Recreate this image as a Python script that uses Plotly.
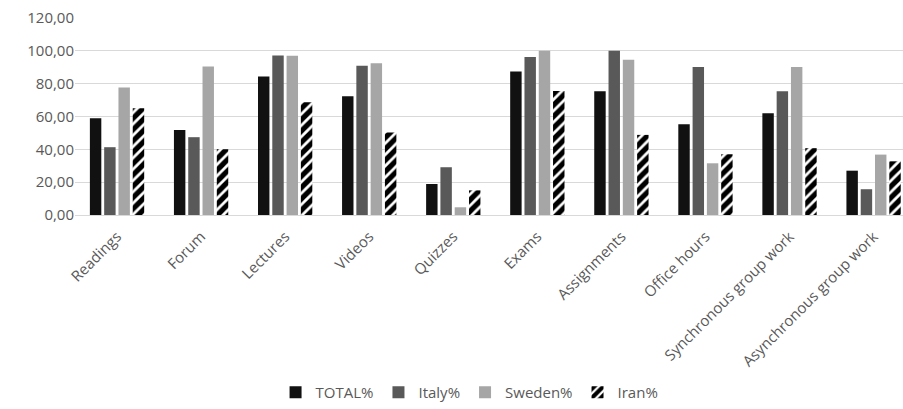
import plotly.graph_objects as go

categories = ["Readings", "Forum", "Lectures", "Videos", "Quizzes", "Exams",
              "Assignments", "Office hours", "Synchronous group work",
              "Asynchronous group work"]
total = [59.0, 51.8, 84.3, 72.4, 18.9, 87.4, 75.4, 55.3, 62.0, 27.0]
italy = [41.3, 47.4, 97.1, 90.9, 29.1, 96.3, 100.0, 90.2, 75.4, 15.7]
sweden = [77.6, 90.4, 97.0, 92.5, 4.7, 100.0, 94.5, 31.5, 90.2, 36.8]
iran = [65.0, 40.0, 68.7, 50.2, 15.0, 75.6, 48.8, 37.0, 40.7, 32.7]
y_ticks = [0, 20, 40, 60, 80, 100, 120]
y_tick_labels = ["0,00", "20,00", "40,00", "60,00", "80,00", "100,00", "120,00"]

FONT = "Open Sans"
GREY_TEXT = "#595959"

fig = go.Figure()
fig.add_trace(go.Bar(name="TOTAL%", x=categories, y=total,
                     marker=dict(color="#111111", line=dict(width=0))))
fig.add_trace(go.Bar(name="Italy%", x=categories, y=italy,
                     marker=dict(color="#595959", line=dict(width=0))))
fig.add_trace(go.Bar(name="Sweden%", x=categories, y=sweden,
                     marker=dict(color="#a6a6a6", line=dict(width=0))))
fig.add_trace(go.Bar(name="Iran%", x=categories, y=iran,
                     marker=dict(color="white", line=dict(width=0),
                                 pattern=dict(shape="/", fgcolor="#000000",
                                              bgcolor="white", fgopacity=1,
                                              size=8, solidity=0.65))))

fig.update_layout(
    width=903, height=409,
    margin=dict(l=75, r=0, t=18, b=194),
    paper_bgcolor="white", plot_bgcolor="white",
    barmode="group", bargap=0.32, bargroupgap=0.2,
    font=dict(family=FONT, size=15, color=GREY_TEXT),
    showlegend=True,
    legend=dict(orientation="h", xref="container", yref="container",
                x=0.52, xanchor="center", y=0.0, yanchor="bottom",
                font=dict(family=FONT, size=15, color=GREY_TEXT),
                itemwidth=30, traceorder="normal"),
)
fig.update_xaxes(range=[-0.5, 9.35], tickangle=-45, showgrid=False,
                 showline=True, linecolor="#d9d9d9", linewidth=1,
                 ticks="", ticklabelstandoff=6,
                 tickfont=dict(family=FONT, size=15, color=GREY_TEXT))
fig.update_yaxes(range=[0, 120], tickvals=y_ticks, ticktext=y_tick_labels,
                 showgrid=True, gridcolor="#d9d9d9", gridwidth=1,
                 zeroline=False, showline=False, ticks="",
                 tickfont=dict(family=FONT, size=15, color=GREY_TEXT))

fig.write_html("out.html")
